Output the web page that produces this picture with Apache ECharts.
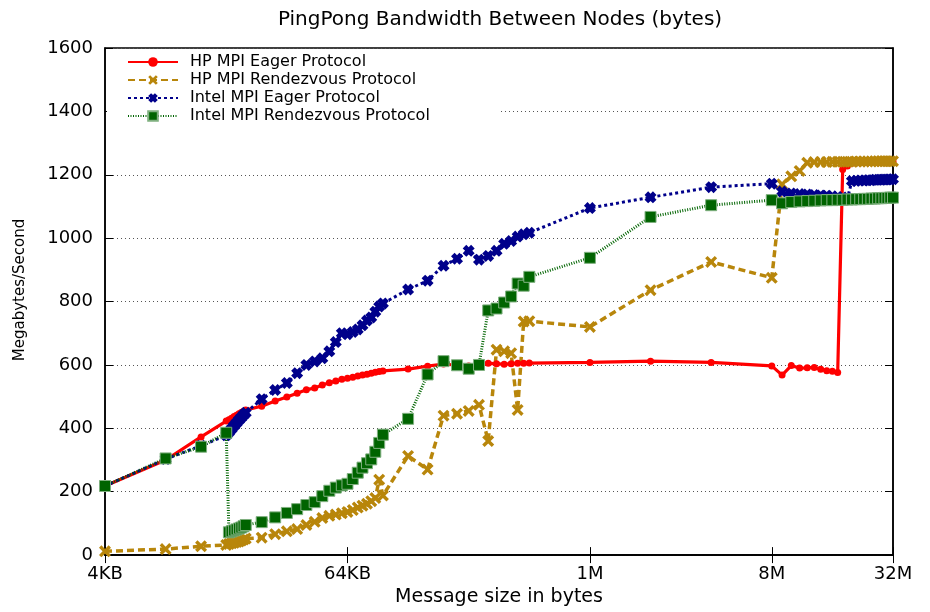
<!DOCTYPE html>
<html><head><meta charset="utf-8">
<script src="https://cdn.jsdelivr.net/npm/echarts@6/dist/echarts.min.js"></script>
<style>html,body{margin:0;padding:0;background:#fff}#c{width:930px;height:612px}</style>
</head><body><div id="c"></div>
<script>
// Message sizes in KB
const sizesKB = [4, 8, 12, 16,
  16.5, 17, 17.5, 18, 18.5, 19, 19.5, 20,
  24, 28, 32, 36, 40, 44, 48, 52, 56, 60, 64, 68, 72, 76, 80, 84, 88, 92, 96,
  128, 160, 192, 224, 256, 288, 320, 352, 384, 416, 448, 480, 512,
  1024, 2048, 4096,
  8192, 9216, 10240, 11264, 12288, 13312, 14336, 15360, 16384, 17408, 18432, 19456, 20480,
  21504, 22528, 23552, 24576, 25600, 26624, 27648, 28672, 29696, 30720, 31744, 32768];

const hpEager = [218, 300, 373, 423,
  427, 432, 437, 441, 446, 450, 454, 458,
  470, 486, 499, 511, 522, 527, 537, 544, 549, 555, 558, 561, 565, 568, 571, 574, 577, 579, 581,
  587, 596, 603, 599, 597, 599, 605, 604, 602, 604, 605, 605, 606,
  608, 612, 608,
  597, 568, 598, 590, 591, 592, 586, 582, 580, 576, 1217, 1228, 1236,
  1238, 1238, 1238, 1239, 1239, 1240, 1240, 1240, 1240, 1241, 1241, 1242];

const hpRendezvous = [12, 19, 28, 32,
  35, 37, 39, 41, 43, 46, 49, 52,
  55, 66, 75, 82, 95, 105, 117, 124, 128, 132, 136, 142, 150, 156, 162, 170, 180, 238, 188,
  313, 270, 440, 446, 455, 474, 360, 648, 643, 637, 458, 737, 738,
  720, 836, 925,
  875, 1170, 1195, 1212, 1238, 1240, 1240, 1240, 1241, 1241, 1241, 1241, 1241,
  1242, 1242, 1242, 1242, 1242, 1243, 1243, 1243, 1243, 1243, 1243, 1243];

const intelEager = [218, 303, 345, 378,
  388, 398, 408, 417, 426, 434, 442, 449,
  492, 521, 543, 574, 600, 611, 621, 643, 672, 700, 697, 704, 712, 725, 740, 750, 768, 784, 794,
  838, 866, 913, 935, 960, 932, 944, 960, 982, 991, 1005, 1012, 1017,
  1095, 1129, 1161,
  1172, 1147, 1141, 1139, 1138, 1136, 1135, 1134, 1132, 1130, 1128, 1126, 1180,
  1181, 1182, 1182, 1183, 1183, 1184, 1184, 1184, 1185, 1185, 1185, 1186];

const intelRendezvous = [218, 305, 342, 386,
  72, 75, 78, 81, 84, 87, 91, 95,
  104, 119, 133, 145, 158, 167, 186, 203, 213, 220, 225, 240, 260, 276, 290, 302, 326, 354, 380,
  430, 570, 612, 599, 588, 600, 772, 778, 797, 816, 857, 850, 878,
  938, 1067, 1104,
  1120, 1110, 1114, 1116, 1117, 1118, 1119, 1120, 1120, 1121, 1121, 1122, 1122,
  1123, 1123, 1124, 1124, 1125, 1125, 1126, 1126, 1127, 1127, 1128, 1128];

const xTickKB = [4, 64, 1024, 8192, 32768];
const xTickLabels = ['4KB', '64KB', '1M', '8M', '32M'];
const seriesNames = ['HP MPI Eager Protocol', 'HP MPI Rendezvous Protocol', 'Intel MPI Eager Protocol', 'Intel MPI Rendezvous Protocol'];

const FONT = 'DejaVu Sans';
const lg = kb => Math.log2(kb * 1024);
const pts = vals => sizesKB.map((k, i) => [lg(k), vals[i]]);
const xTickPos = xTickKB.map(lg);
const labelMap = {};
xTickPos.forEach((p, i) => { labelMap[p] = xTickLabels[i]; });

const xPath = 'path://M0,2 L2,0 L5,3 L8,0 L10,2 L7,5 L10,8 L8,10 L5,7 L2,10 L0,8 L3,5 Z';
const blobPath = 'path://M0,3 L3,0 L5,2 L7,0 L10,3 L8,5 L10,7 L7,10 L5,8 L3,10 L0,7 L2,5 Z';

const chart = echarts.init(document.getElementById('c'), null, {renderer: 'canvas'});
const option = {
  animation: false,
  backgroundColor: '#fff',
  textStyle: {fontFamily: FONT},
  grid: {left: 105, right: 37, top: 48, bottom: 54, show: true, borderColor: '#000', borderWidth: 1.5, containLabel: false},
  graphic: [
    {type: 'text', x: 500, y: 20, silent: true,
     style: {text: 'PingPong Bandwidth Between Nodes (bytes)', font: '20px "DejaVu Sans"', fill: '#000', textAlign: 'center', textVerticalAlign: 'middle'}},
    {type: 'text', x: 20, y: 290, rotation: Math.PI / 2, silent: true,
     style: {text: 'Megabytes/Second', font: '15px "DejaVu Sans"', fill: '#000', textAlign: 'center', textVerticalAlign: 'middle'}}
  ],
  legend: {
    orient: 'vertical', left: 107, top: 50, padding: [3, 70, 3, 20],
    backgroundColor: '#fff', itemWidth: 50, itemHeight: 12, itemGap: 0,
    textStyle: {fontFamily: FONT, fontSize: 16, lineHeight: 18, color: '#000', padding: [0, 0, 0, 7]},
    data: seriesNames, selectedMode: false
  },
  xAxis: [{
    type: 'value', min: 12, max: 25, position: 'bottom',
    name: 'Message size in bytes', nameLocation: 'middle', nameGap: 31,
    nameTextStyle: {fontFamily: FONT, fontSize: 19, color: '#000'},
    axisLine: {show: true, lineStyle: {color: '#000', width: 1.5}},
    axisTick: {show: true, inside: true, length: 8, customValues: xTickPos, lineStyle: {color: '#000', width: 1}},
    axisLabel: {customValues: xTickPos, margin: 10, fontFamily: FONT, fontSize: 18, color: '#000',
      formatter: v => labelMap[v] !== undefined ? labelMap[v] : ''},
    splitLine: {show: false}
  }, {
    type: 'value', min: 12, max: 25, position: 'top',
    axisLine: {show: true, lineStyle: {color: '#000', width: 1.5}},
    axisTick: {show: true, inside: true, length: 8, customValues: xTickPos, lineStyle: {color: '#000', width: 1}},
    axisLabel: {show: false}, splitLine: {show: false}
  }],
  yAxis: [{
    type: 'value', min: 0, max: 1600, interval: 200, position: 'left',
    axisLine: {show: true, lineStyle: {color: '#000', width: 1.5}},
    axisTick: {show: true, inside: true, length: 8, lineStyle: {color: '#000', width: 1}},
    axisLabel: {margin: 12, fontFamily: FONT, fontSize: 18, color: '#000', formatter: v => String(v)},
    splitLine: {show: true, lineStyle: {color: '#555', type: [1, 3], width: 1}}
  }, {
    type: 'value', min: 0, max: 1600, interval: 200, position: 'right',
    axisLine: {show: true, lineStyle: {color: '#000', width: 1.5}},
    axisTick: {show: true, inside: true, length: 8, lineStyle: {color: '#000', width: 1}},
    axisLabel: {show: false}, splitLine: {show: false}
  }],
  series: [
    {name: seriesNames[0], type: 'line', data: pts(hpEager), symbol: 'circle', symbolSize: 7,
     lineStyle: {color: '#ff0000', width: 3.2, type: 'solid'}, itemStyle: {color: '#ff0000'}, emphasis: {disabled: true}, silent: true},
    {name: seriesNames[1], type: 'line', data: pts(hpRendezvous), symbol: xPath, symbolSize: 12,
     lineStyle: {color: '#b8860b', width: 3.5, type: [7, 4]}, itemStyle: {color: '#b8860b'}, emphasis: {disabled: true}, silent: true},
    {name: seriesNames[2], type: 'line', data: pts(intelEager), symbol: blobPath, symbolSize: 12,
     lineStyle: {color: '#00008b', width: 3, type: [3, 3]}, itemStyle: {color: '#00008b'}, emphasis: {disabled: true}, silent: true},
    {name: seriesNames[3], type: 'line', data: pts(intelRendezvous), symbol: 'rect', symbolSize: 11,
     lineStyle: {color: '#006400', width: 3, type: [1, 1.5]}, itemStyle: {color: '#006400', borderColor: '#7fb07f', borderWidth: 1}, emphasis: {disabled: true}, silent: true}
  ]
};
chart.setOption(option);
</script>
</body></html>
